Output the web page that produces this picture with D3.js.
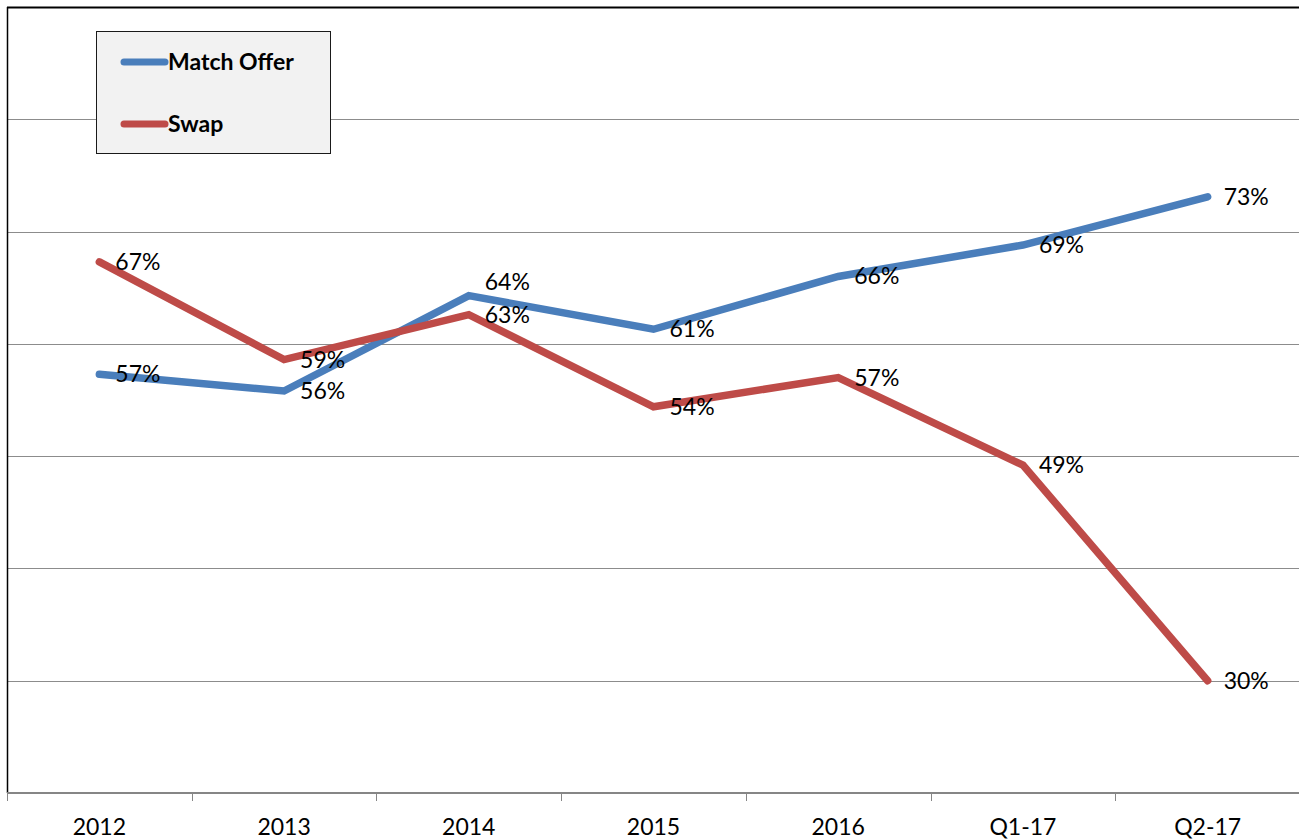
<!DOCTYPE html>
<html>
<head>
<meta charset="utf-8">
<script src="https://cdn.jsdelivr.net/npm/d3@7"></script>
<style>
  body { margin: 0; background: #fff; }
  text { font-family: Lato, "Open Sans", sans-serif; }
</style>
</head>
<body>
<div id="chart"></div>
<script>
const width = 1299;
const height = 840;

const categories = ["2012", "2013", "2014", "2015", "2016", "Q1-17", "Q2-17"];
const matchOffer = [57.3, 55.8, 64.3, 61.3, 66.0, 68.8, 73.1];
const swap = [67.3, 58.6, 62.6, 54.4, 57.0, 49.2, 30.0];
const yTicks = [30, 40, 50, 60, 70, 80];

const series = [
  { name: "Match Offer", values: matchOffer, color: "#4a7ebb" },
  { name: "Swap", values: swap, color: "#be4b48" }
];

const plot = { left: 7, top: 7, right: 1300, bottom: 793 };

const svg = d3.select("#chart")
    .append("svg")
    .attr("width", width)
    .attr("height", height);

const x = d3.scaleBand()
    .domain(categories)
    .range([plot.left, plot.right]);

const y = d3.scaleLinear()
    .domain([20, 90])
    .range([plot.bottom, plot.top]);

// gridlines
svg.append("g")
    .selectAll("line")
    .data(yTicks)
    .join("line")
    .attr("x1", plot.left)
    .attr("x2", width)
    .attr("y1", d => Math.round(y(d)) + 0.5)
    .attr("y2", d => Math.round(y(d)) + 0.5)
    .attr("stroke", "#8c8c8c")
    .attr("stroke-width", 1);

// plot border (top + left)
svg.append("line")
    .attr("x1", plot.left).attr("x2", width)
    .attr("y1", plot.top + 0.5).attr("y2", plot.top + 0.5)
    .attr("stroke", "#000").attr("stroke-width", 2);
svg.append("line")
    .attr("x1", plot.left + 0.5).attr("x2", plot.left + 0.5)
    .attr("y1", plot.top).attr("y2", plot.bottom)
    .attr("stroke", "#000").attr("stroke-width", 1.5);

// x axis
const xAxis = svg.append("g")
    .attr("transform", `translate(0,${plot.bottom})`);

xAxis.append("line")
    .attr("x1", plot.left).attr("x2", width)
    .attr("y1", 0).attr("y2", 0)
    .attr("stroke", "#868686").attr("stroke-width", 2);

xAxis.selectAll(".tick")
    .data(categories)
    .join("line")
    .attr("class", "tick")
    .attr("x1", d => Math.round(x(d)) + 0.5)
    .attr("x2", d => Math.round(x(d)) + 0.5)
    .attr("y1", 0).attr("y2", 8)
    .attr("stroke", "#868686");

xAxis.selectAll("text")
    .data(categories)
    .join("text")
    .attr("x", d => x(d) + x.bandwidth() / 2)
    .attr("y", 42)
    .attr("text-anchor", "middle")
    .attr("font-size", 23)
    .attr("fill", "#000")
    .text(d => d);

// lines
const line = d3.line()
    .x((d, i) => x(categories[i]) + x.bandwidth() / 2)
    .y(d => y(d));

svg.append("g")
    .selectAll("path")
    .data(series)
    .join("path")
    .attr("d", d => line(d.values))
    .attr("fill", "none")
    .attr("stroke", d => d.color)
    .attr("stroke-width", 7.5)
    .attr("stroke-linecap", "round")
    .attr("stroke-linejoin", "miter");

// data labels (to the right of each point; one nudged up like the original)
const labelNudge = { "Match Offer-2014": -14 };
series.forEach(s => {
  svg.append("g")
      .selectAll("text")
      .data(s.values)
      .join("text")
      .attr("x", (d, i) => x(categories[i]) + x.bandwidth() / 2 + 16)
      .attr("y", (d, i) => y(d) + 8 + (labelNudge[s.name + "-" + categories[i]] || 0))
      .attr("font-size", 23)
      .attr("fill", "#000")
      .text(d => Math.round(d) + "%");
});

// legend
const legend = svg.append("g").attr("transform", "translate(96,31)");
legend.append("rect")
    .attr("x", 0.5).attr("y", 0.5)
    .attr("width", 234).attr("height", 122)
    .attr("fill", "#f2f2f2")
    .attr("stroke", "#1a1a1a")
    .attr("stroke-width", 1);

const item = legend.selectAll(".item")
    .data(series)
    .join("g")
    .attr("class", "item")
    .attr("transform", (d, i) => `translate(0,${31 + i * 62})`);

item.append("line")
    .attr("x1", 28).attr("x2", 69)
    .attr("y1", 0).attr("y2", 0)
    .attr("stroke", d => d.color)
    .attr("stroke-width", 7)
    .attr("stroke-linecap", "round");

item.append("text")
    .attr("x", 72)
    .attr("y", 8)
    .attr("font-size", 23)
    .attr("font-weight", "bold")
    .attr("fill", "#000")
    .text(d => d.name);
</script>
</body>
</html>
